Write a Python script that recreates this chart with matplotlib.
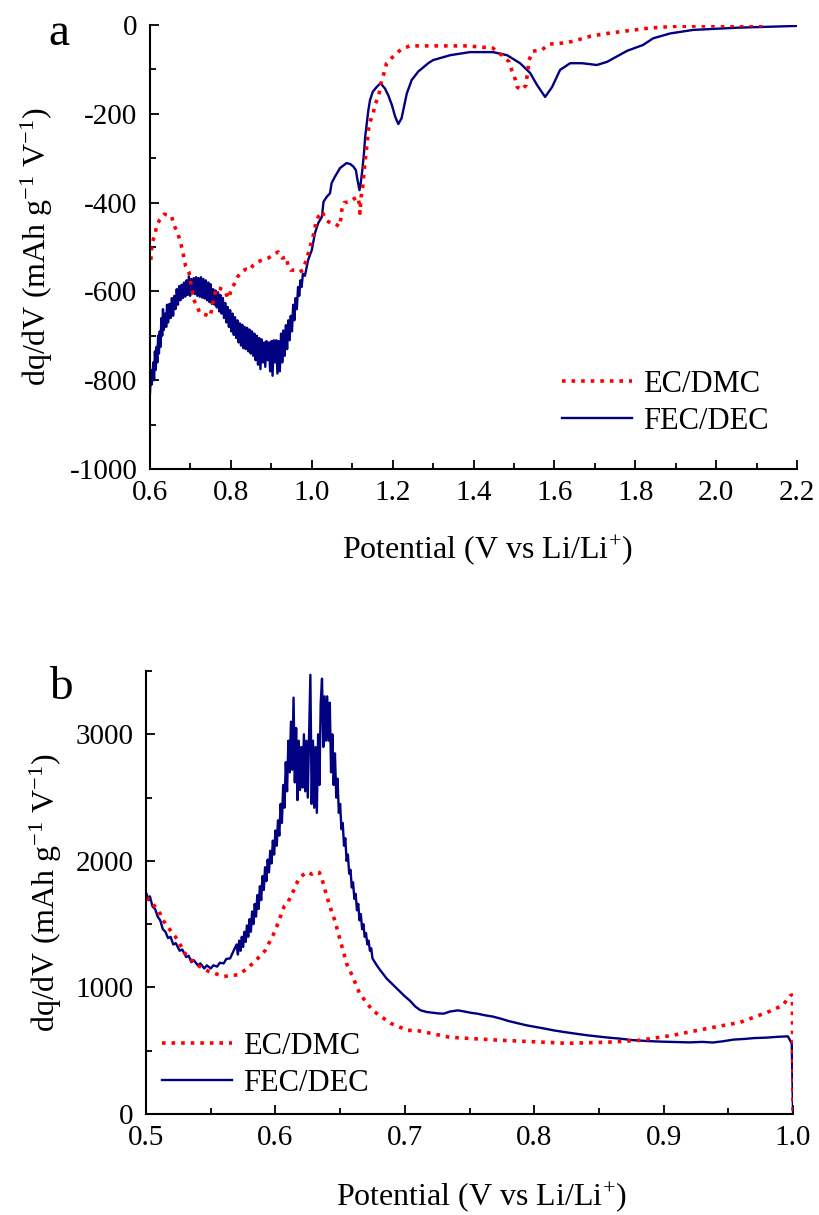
import matplotlib
matplotlib.use("Agg")
import matplotlib.pyplot as plt
from matplotlib.ticker import MultipleLocator

plt.rcParams['font.family'] = ['Liberation Serif', 'DejaVu Serif']
plt.rcParams['mathtext.fontset'] = 'custom'
plt.rcParams['mathtext.rm'] = 'Liberation Serif'
plt.rcParams['mathtext.it'] = 'Liberation Serif:italic'
plt.rcParams['axes.unicode_minus'] = False

#panel a - EC/DMC (red dotted)
a_ec_x = [0.602, 0.605, 0.612, 0.616, 0.624, 0.635, 0.653, 0.659, 0.668, 0.675, 0.680, 0.684,
          0.688, 0.696, 0.708, 0.717, 0.723, 0.739, 0.748, 0.752, 0.754, 0.764, 0.772, 0.785,
          0.793, 0.797, 0.801, 0.808, 0.816, 0.826, 0.837, 0.847, 0.855, 0.867, 0.879, 0.892,
          0.904, 0.917, 0.927, 0.937, 0.941, 0.948, 0.962, 0.970, 0.978, 0.989, 0.996, 1.001,
          1.006, 1.010, 1.016, 1.025, 1.037, 1.049, 1.057, 1.068, 1.072, 1.074, 1.080, 1.095,
          1.105, 1.114, 1.118, 1.119, 1.122, 1.126, 1.129, 1.132, 1.136, 1.140, 1.144, 1.152,
          1.156, 1.165, 1.173, 1.179, 1.185, 1.202, 1.222, 1.243, 1.263, 1.300, 1.342, 1.384,
          1.423, 1.448, 1.470, 1.488, 1.495, 1.503, 1.508, 1.520, 1.530, 1.532, 1.535, 1.537,
          1.547, 1.569, 1.587, 1.629, 1.648, 1.690, 1.730, 1.772, 1.834, 1.896, 1.977, 2.126]
a_ec_y = [-529, -491, -473, -454, -438, -426, -430, -450, -468, -488, -507, -525,
          -543, -556, -619, -634, -649, -653, -657, -643, -631, -592, -593, -598,
          -616, -608, -593, -584, -568, -556, -550, -552, -541, -533, -529, -525,
          -518, -511, -525, -522, -541, -552, -552, -556, -552, -522, -499, -483,
          -466, -445, -432, -420, -441, -447, -447, -454, -435, -417, -400, -398,
          -391, -387, -405, -424, -387, -364, -333, -304, -274, -236, -218, -199,
          -180, -161, -124, -107, -86, -70, -54, -47, -47, -47, -47, -47,
          -50, -52, -68, -83, -103, -122, -140, -146, -135, -117, -97, -79,
          -59, -56, -43, -40, -36, -25, -19, -14, -7, -3, -2, -1]

#panel a - FEC/DEC (navy solid)
a_fec_x = [0.600, 0.602, 0.604, 0.606, 0.608, 0.610, 0.612, 0.614, 0.616, 0.618, 0.620, 0.622,
           0.624, 0.626, 0.628, 0.630, 0.632, 0.634, 0.637, 0.640, 0.642, 0.645, 0.648, 0.651,
           0.654, 0.657, 0.660, 0.663, 0.666, 0.669, 0.672, 0.675, 0.678, 0.681, 0.684, 0.687,
           0.690, 0.693, 0.696, 0.699, 0.702, 0.705, 0.708, 0.711, 0.714, 0.717, 0.720, 0.723,
           0.726, 0.729, 0.732, 0.735, 0.738, 0.741, 0.744, 0.747, 0.750, 0.753, 0.756, 0.759,
           0.762, 0.765, 0.768, 0.771, 0.774, 0.777, 0.780, 0.783, 0.786, 0.789, 0.792, 0.795,
           0.798, 0.801, 0.804, 0.807, 0.810, 0.813, 0.816, 0.819, 0.822, 0.825, 0.828, 0.831,
           0.834, 0.837, 0.840, 0.843, 0.846, 0.849, 0.852, 0.855, 0.858, 0.861, 0.864, 0.867,
           0.870, 0.873, 0.876, 0.879, 0.882, 0.885, 0.888, 0.891, 0.894, 0.897, 0.900, 0.903,
           0.906, 0.909, 0.912, 0.915, 0.918, 0.921, 0.924, 0.927, 0.930, 0.933, 0.936, 0.939,
           0.942, 0.945, 0.948, 0.951, 0.954, 0.957, 0.960, 0.963, 0.966, 0.969, 0.972, 0.975,
           0.978, 0.983, 0.991, 1.000, 1.008, 1.016, 1.025, 1.029, 1.037, 1.045, 1.049, 1.057,
           1.070, 1.086, 1.095, 1.103, 1.109, 1.113, 1.118, 1.121, 1.125, 1.129, 1.132, 1.136,
           1.140, 1.144, 1.151, 1.161, 1.170, 1.181, 1.189, 1.198, 1.206, 1.214, 1.222, 1.228,
           1.235, 1.247, 1.263, 1.288, 1.300, 1.342, 1.391, 1.448, 1.483, 1.515, 1.540, 1.557,
           1.577, 1.594, 1.614, 1.639, 1.668, 1.705, 1.730, 1.780, 1.819, 1.844, 1.886, 1.943,
           2.052, 2.200]
a_fec_y = [-829, -777, -810, -790, -760, -800, -735, -777, -725, -760, -700, -740,
           -690, -725, -660, -700, -640, -687, -650, -680, -630, -670, -628, -660,
           -615, -655, -610, -640, -595, -630, -588, -620, -585, -615, -580, -612,
           -575, -608, -566, -610, -572, -605, -570, -606, -568, -610, -570, -612,
           -568, -614, -572, -616, -575, -620, -580, -624, -584, -628, -595, -630,
           -598, -636, -602, -645, -608, -650, -615, -660, -626, -670, -635, -680,
           -642, -690, -650, -698, -658, -705, -665, -715, -672, -722, -675, -728,
           -680, -730, -682, -735, -686, -740, -690, -745, -695, -755, -700, -765,
           -705, -775, -708, -760, -715, -770, -712, -755, -715, -780, -712, -790,
           -710, -760, -710, -785, -712, -780, -695, -760, -688, -745, -676, -730,
           -665, -710, -655, -690, -630, -665, -615, -640, -590, -610, -575, -590,
           -560, -565, -529, -507, -468, -446, -432, -398, -387, -379, -356, -342,
           -322, -311, -313, -319, -327, -349, -372, -356, -327, -289, -252, -221,
           -191, -169, -150, -139, -131, -143, -158, -180, -206, -223, -210, -184,
           -154, -124, -105, -86, -79, -68, -61, -61, -68, -86, -108, -135,
           -162, -140, -101, -86, -86, -90, -83, -58, -45, -30, -19, -11,
           -6, -2]

#panel b - EC/DMC (red dotted)
b_ec_x = [0.5005, 0.504, 0.510, 0.512, 0.517, 0.524, 0.530, 0.538, 0.548, 0.560, 0.571, 0.578,
          0.586, 0.592, 0.598, 0.602, 0.605, 0.607, 0.610, 0.612, 0.614, 0.616, 0.619, 0.623,
          0.625, 0.628, 0.631, 0.634, 0.636, 0.638, 0.640, 0.642, 0.644, 0.646, 0.648, 0.655,
          0.660, 0.665, 0.675, 0.689, 0.702, 0.709, 0.735, 0.774, 0.825, 0.856, 0.882, 0.907,
          0.934, 0.959, 0.980, 0.992, 0.998, 0.9995, 1.000]
b_ec_y = [1711, 1672, 1606, 1549, 1475, 1383, 1270, 1186, 1129, 1087, 1100, 1147,
          1226, 1291, 1409, 1507, 1593, 1646, 1677, 1730, 1764, 1816, 1869, 1903,
          1913, 1895, 1913, 1908, 1856, 1782, 1711, 1646, 1580, 1528, 1449, 1189,
          1079, 953, 819, 717, 661, 661, 606, 583, 559, 567, 583, 622,
          677, 724, 803, 858, 937, 940, 0]

#panel b - FEC/DEC (navy solid), noisy around the peak
b_fec_x = [0.5005, 0.502, 0.503, 0.505, 0.507, 0.509, 0.511, 0.513, 0.515, 0.517, 0.519, 0.521,
           0.523, 0.526, 0.528, 0.531, 0.533, 0.535, 0.537, 0.540, 0.542, 0.545, 0.547, 0.550,
           0.552, 0.555, 0.557, 0.560, 0.562, 0.565, 0.567,
           0.570, 0.571, 0.572, 0.573, 0.574, 0.575, 0.576, 0.577, 0.578, 0.579,
           0.580, 0.581, 0.582, 0.583, 0.584, 0.585, 0.586, 0.587, 0.588, 0.589,
           0.590, 0.591, 0.592, 0.593, 0.594, 0.595, 0.596, 0.597, 0.598, 0.599,
           0.600, 0.601, 0.602, 0.603, 0.604, 0.605, 0.606, 0.607, 0.608, 0.609,
           0.610, 0.611, 0.612, 0.613, 0.614, 0.615, 0.616, 0.617, 0.618, 0.619,
           0.620, 0.621, 0.622, 0.623, 0.624, 0.625, 0.626, 0.627, 0.628, 0.629,
           0.630, 0.631, 0.632, 0.633, 0.634, 0.635, 0.636, 0.637, 0.638, 0.639,
           0.640, 0.641, 0.642, 0.643, 0.644, 0.645, 0.646, 0.647, 0.648, 0.649,
           0.650, 0.651, 0.652, 0.653, 0.654, 0.655, 0.656, 0.657, 0.658, 0.659,
           0.660, 0.661, 0.662, 0.663, 0.664, 0.665, 0.666, 0.667, 0.668, 0.669,
           0.670, 0.671, 0.672, 0.673, 0.674, 0.675,
           0.678, 0.680, 0.683, 0.686, 0.690, 0.693, 0.696, 0.700, 0.704, 0.708, 0.712, 0.717,
           0.722, 0.726, 0.730, 0.735, 0.741, 0.746, 0.751, 0.756, 0.762, 0.768, 0.774, 0.780,
           0.787, 0.794, 0.800, 0.808, 0.815, 0.823, 0.832, 0.841, 0.850, 0.858, 0.866, 0.876,
           0.887, 0.898, 0.910, 0.920, 0.930, 0.938, 0.946, 0.954, 0.962, 0.970, 0.980, 0.988,
           0.996, 0.999, 1.000]
b_fec_y = [1738, 1690, 1720, 1640, 1620, 1560, 1530, 1460, 1440, 1390, 1400, 1340,
           1350, 1290, 1300, 1240, 1250, 1200, 1215, 1175, 1190, 1150, 1175, 1150,
           1175, 1165, 1195, 1190, 1225, 1230, 1275,
           1340, 1260, 1370, 1290, 1400, 1320, 1440, 1360, 1490, 1400,
           1540, 1440, 1600, 1500, 1660, 1560, 1730, 1620, 1800, 1690,
           1880, 1770, 1950, 1840, 2010, 1910, 2080, 1980, 2160, 2050,
           2240, 2120, 2320, 2200, 2450, 2300, 2600, 2420, 2780, 2550,
           2950, 2700, 3100, 2720, 3290, 2620, 3050, 2480, 2950, 2560,
           2900, 2580, 3000, 2550, 2950, 2500, 3000, 3470, 2450, 2950,
           2420, 2900, 2380, 3000, 2600, 3250, 3440, 2900, 3300, 2950,
           3300, 2950, 3250, 2700, 3000, 2600, 2850, 2500, 2650, 2380,
           2450, 2250, 2300, 2120, 2180, 2000, 2050, 1900, 1930, 1790,
           1830, 1700, 1740, 1610, 1660, 1530, 1580, 1460, 1500, 1400,
           1430, 1340, 1370, 1290, 1310, 1230,
           1180, 1150, 1110, 1070, 1030, 1000, 970, 930, 895, 850, 820, 806,
           800, 795, 793, 810, 819, 810, 800, 793, 780, 770, 754, 735,
           718, 701, 690, 675, 661, 648, 635, 622, 612, 603, 596, 584,
           577, 572, 569, 566, 570, 565, 575, 588, 593, 600, 604, 610,
           614, 557, 0]

RED = '#ff0000'
NAVY = '#000080'

fig = plt.figure(figsize=(8.19, 12.15), dpi=100)
axA = fig.add_axes([0.1832, 0.614, 0.790, 0.3654])
axB = fig.add_axes([0.1783, 0.0831, 0.790, 0.3646])


def style(ax):
    for s in ['top', 'right']:
        ax.spines[s].set_visible(False)
    for s in ['left', 'bottom']:
        ax.spines[s].set_linewidth(1.5)
    ax.tick_params(which='major', direction='in', length=6.5, width=1.3, labelsize=21, pad=9)
    ax.tick_params(which='minor', direction='in', length=4, width=1.3)
    ax.tick_params(axis='x', which='major', pad=8)


#sudarom a
fa, = axA.plot(a_fec_x, a_fec_y, color=NAVY, lw=1.7, label='FEC/DEC')
ea, = axA.plot(a_ec_x, a_ec_y, color=RED, lw=2.6, ls=':', label='EC/DMC')
axA.set_xlim(0.6, 2.2)
axA.set_ylim(-1000, 0)
axA.xaxis.set_major_locator(MultipleLocator(0.2))
axA.xaxis.set_minor_locator(MultipleLocator(0.1))
axA.yaxis.set_major_locator(MultipleLocator(200))
axA.yaxis.set_minor_locator(MultipleLocator(100))
axA.xaxis.set_major_formatter(lambda v, p: '%.1f' % v)
style(axA)
axA.legend(handles=[ea, fa], loc='center left', bbox_to_anchor=(0.637, 0.149), frameon=False,
           fontsize=22, handlelength=2.3, handletextpad=0.35, labelspacing=0.25,
           borderpad=0, borderaxespad=0)
axA.text(-0.175, 0.5, 'dq/dV (mAh g$^{-1}$ V$^{-1}$)', transform=axA.transAxes, rotation=90,
         ha='center', va='center', fontsize=23)
axA.text(0.521, -0.182, 'Potential (V vs Li/Li$^{+}$)', transform=axA.transAxes,
         ha='center', va='center', fontsize=23)

#sudarom b
fb, = axB.plot(b_fec_x, b_fec_y, color=NAVY, lw=1.7, label='FEC/DEC')
eb, = axB.plot(b_ec_x, b_ec_y, color=RED, lw=2.6, ls=':', label='EC/DMC')
axB.set_xlim(0.5, 1.0)
axB.set_ylim(0, 3500)
axB.xaxis.set_major_locator(MultipleLocator(0.1))
axB.xaxis.set_minor_locator(MultipleLocator(0.05))
axB.yaxis.set_major_locator(MultipleLocator(1000))
axB.yaxis.set_minor_locator(MultipleLocator(500))
axB.xaxis.set_major_formatter(lambda v, p: '%.1f' % v)
style(axB)
axB.legend(handles=[eb, fb], loc='center left', bbox_to_anchor=(0.025, 0.111), frameon=False,
           fontsize=22, handlelength=2.3, handletextpad=0.35, labelspacing=0.25,
           borderpad=0, borderaxespad=0)
axB.text(-0.155, 0.5, 'dq/dV (mAh g$^{-1}$ V$^{-1}$)', transform=axB.transAxes, rotation=90,
         ha='center', va='center', fontsize=23)
axB.text(0.518, -0.187, 'Potential (V vs Li/Li$^{+}$)', transform=axB.transAxes,
         ha='center', va='center', fontsize=23)

fig.text(59 / 819, 1 - 34 / 1215, 'a', fontsize=34, ha='center', va='center')
fig.text(61 / 819, 1 - 688 / 1215, 'b', fontsize=34, ha='center', va='center')

fig.savefig('out.png', dpi=100)
